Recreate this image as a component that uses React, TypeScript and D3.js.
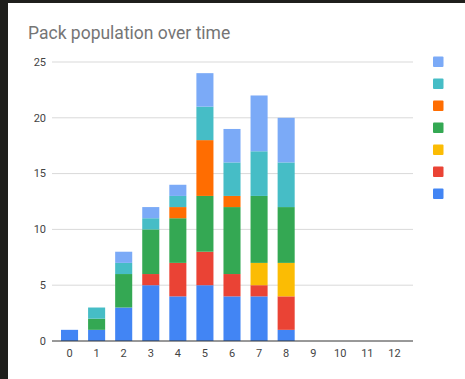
import * as d3 from 'd3';

const W = 465;
const H = 379;

// ticks along x (generations) and y
const categories = ['0', '1', '2', '3', '4', '5', '6', '7', '8', '9', '10', '11', '12'];
const yTicks = [0, 5, 10, 15, 20, 25];

// series, bottom of stack first
const seriesKeys = ['s1', 's2', 's3', 's4', 's5', 's6', 's7'];
const seriesColors = ['#4285f4', '#ea4335', '#fbbc04', '#34a853', '#ff6d01', '#46bdc6', '#7baaf7'];

const s1 = [1, 1, 3, 5, 4, 5, 4, 4, 1, 0, 0, 0, 0];
const s2 = [0, 0, 0, 1, 3, 3, 2, 1, 3, 0, 0, 0, 0];
const s3 = [0, 0, 0, 0, 0, 0, 0, 2, 3, 0, 0, 0, 0];
const s4 = [0, 1, 3, 4, 4, 5, 6, 6, 5, 0, 0, 0, 0];
const s5 = [0, 0, 0, 0, 1, 5, 1, 0, 0, 0, 0, 0, 0];
const s6 = [0, 1, 1, 1, 1, 3, 3, 4, 4, 0, 0, 0, 0];
const s7 = [0, 0, 1, 1, 1, 3, 3, 5, 4, 0, 0, 0, 0];

const rows = categories.map((c, i) => ({
  cat: c,
  s1: s1[i], s2: s2[i], s3: s3[i], s4: s4[i], s5: s5[i], s6: s6[i], s7: s7[i],
}));

export default function App() {
  const x = d3.scaleBand().domain(categories).range([56, 408]).paddingInner(0.37).paddingOuter(0.185);
  const y = d3.scaleLinear().domain([0, 25]).range([341, 62]);
  const stacked = d3.stack<any>().keys(seriesKeys)(rows);
  const legendOrder = seriesKeys.map((_, i) => i).reverse();

  return (
    <svg
      width={W}
      height={H}
      style={{ position: 'absolute', left: 0, top: 0, display: 'block', fontFamily: 'Roboto, Arial, sans-serif' }}
    >
      <rect x={0} y={0} width={W} height={H} fill="#1f1f1c" />
      <rect x={8} y={3} width={W - 8} height={H - 3} fill="#ffffff" />
      <text x={28} y={39} fontSize={17.5} fill="#757575">Pack population over time</text>

      {yTicks.map(t => (
        <g key={t}>
          {t > 0 && <line x1={52} x2={413} y1={y(t)} y2={y(t)} stroke="#d9d9d9" strokeWidth={1} />}
          <text x={46} y={y(t)} dy="0.35em" textAnchor="end" fontSize={11} fill="#444">{t}</text>
        </g>
      ))}

      {stacked.map((layer, si) => (
        <g key={layer.key} fill={seriesColors[si]}>
          {layer.map((d, i) => {
            const h = y(d[0]) - y(d[1]);
            if (h <= 0) return null;
            return (
              <rect key={i} x={x(categories[i])} y={y(d[1])} width={x.bandwidth()} height={h} />
            );
          })}
        </g>
      ))}

      <line x1={52} x2={413} y1={y(0)} y2={y(0)} stroke="#333" strokeWidth={1} />

      {categories.map(c => (
        <text key={c} x={(x(c) ?? 0) + x.bandwidth() / 2} y={357} textAnchor="middle" fontSize={11} fill="#444">{c}</text>
      ))}

      {legendOrder.map((si, k) => (
        <rect key={si} x={433} y={56.5 + k * 22} width={10.5} height={10.5} rx={1} fill={seriesColors[si]} />
      ))}
    </svg>
  );
}
